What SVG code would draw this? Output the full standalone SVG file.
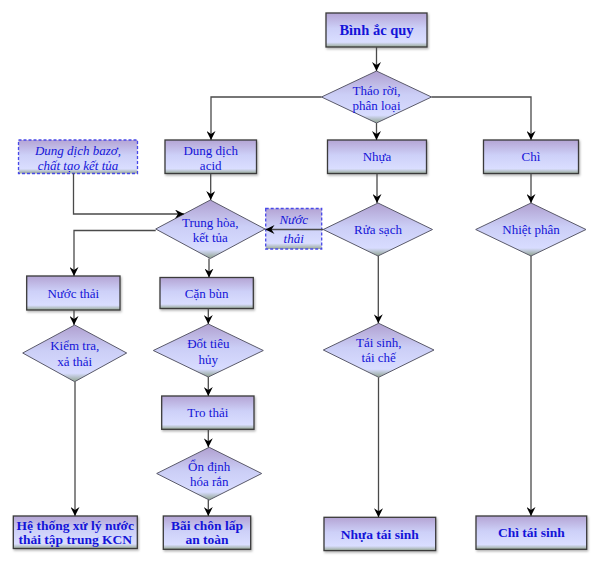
<svg xmlns="http://www.w3.org/2000/svg" width="600" height="561" viewBox="0 0 600 561">
<defs>
<linearGradient id="g" x1="0" y1="0" x2="0" y2="1">
<stop offset="0" stop-color="#b4a4d4"/>
<stop offset="0.45" stop-color="#cdd0f8"/>
<stop offset="0.86" stop-color="#dadeff"/>
<stop offset="1" stop-color="#97a896"/>
</linearGradient>
<linearGradient id="gd" x1="0" y1="0" x2="0" y2="1">
<stop offset="0" stop-color="#b0a0d0"/>
<stop offset="0.45" stop-color="#cbcef6"/>
<stop offset="0.85" stop-color="#d8dcff"/>
<stop offset="1" stop-color="#8fa38e"/>
</linearGradient>
<marker id="ah" markerUnits="userSpaceOnUse" markerWidth="10" markerHeight="9" refX="9" refY="4.5" orient="auto" viewBox="0 0 10 9">
<path d="M0,0 L9,4.5 L0,9 L3,4.5 z" fill="#000"/>
</marker>
<filter id="sh" x="-5%" y="-5%" width="115%" height="125%">
<feDropShadow dx="1" dy="1.5" stdDeviation="0.8" flood-color="#000" flood-opacity="0.3"/>
</filter>
</defs>
<style>
.box{fill:url(#g);stroke:#3a3a3a;stroke-width:1.3;filter:url(#sh)}
.dbox{fill:url(#g);stroke:#4848e8;stroke-width:1.3;stroke-dasharray:3 2}
.dia{fill:url(#gd);stroke:#5a5a6a;stroke-width:1}
.t{font-family:"Liberation Serif","Times New Roman",serif;font-size:13px;fill:#1414d8;text-anchor:middle}
.b{font-weight:bold;font-size:13.5px}
.i{font-style:italic}
.c{fill:none;stroke:#4a4a4a;stroke-width:1.3;marker-end:url(#ah)}
</style>

<g id="binh-ac-quy">
<rect class="box" x="326" y="13" width="101" height="34"/>
<text class="t b" x="376.5" y="35" style="font-size:14.5px">Bình ắc quy</text>
</g>
<g id="thao-roi">
<polygon class="dia" points="376.5,71 431.5,97 376.5,123 321.5,97"/>
<text class="t" x="376.5" y="95">Tháo rời,</text>
<text class="t" x="376.5" y="110">phân loại</text>
</g>
<g id="dung-dich-bazo">
<rect class="dbox" x="18.5" y="140" width="119" height="33.5"/>
<text class="t i" x="78" y="155">Dung dịch bazơ,</text>
<text class="t i" x="78" y="169.5">chất tạo kết tủa</text>
</g>
<g id="dung-dich-acid">
<rect class="box" x="165" y="140" width="91.5" height="33.5"/>
<text class="t" x="210.7" y="155">Dung dịch</text>
<text class="t" x="210.7" y="169.5">acid</text>
</g>
<g id="nhua">
<rect class="box" x="327.5" y="140" width="99" height="33.5"/>
<text class="t" x="377" y="161">Nhựa</text>
</g>
<g id="chi">
<rect class="box" x="483.5" y="140" width="95" height="33.5"/>
<text class="t" x="531" y="161">Chì</text>
</g>
<g id="trung-hoa">
<polygon class="dia" points="210.3,200 265,229 210.3,258.5 155.7,229"/>
<text class="t" x="210.3" y="227">Trung hòa,</text>
<text class="t" x="210.3" y="242">kết tủa</text>
</g>
<g id="nuoc-thai-vao">
<rect class="dbox" x="265.7" y="208.5" width="56" height="40.5"/>
<text class="t i" x="293.7" y="224">Nước</text>
<text class="t i" x="293.7" y="243">thải</text>
</g>
<g id="rua-sach">
<polygon class="dia" points="378,203 432.5,229.5 378,256 323.3,229.5"/>
<text class="t" x="378" y="234">Rửa sạch</text>
</g>
<g id="nhiet-phan">
<polygon class="dia" points="531,203 586,229.5 531,256 475.7,229.5"/>
<text class="t" x="531" y="234">Nhiệt phân</text>
</g>
<g id="nuoc-thai">
<rect class="box" x="26.7" y="276" width="93.3" height="34"/>
<text class="t" x="73.3" y="298">Nước thải</text>
</g>
<g id="can-bun">
<rect class="box" x="160" y="277.5" width="93.3" height="31"/>
<text class="t" x="206.7" y="298">Cặn bùn</text>
</g>
<g id="kiem-tra">
<polygon class="dia" points="74.7,325 126.7,353 74.7,381.7 22.7,353"/>
<text class="t" x="74.7" y="350">Kiểm tra,</text>
<text class="t" x="74.7" y="366">xả thải</text>
</g>
<g id="dot-tieu-huy">
<polygon class="dia" points="208.3,324 263.3,350.5 208.3,377 153.3,350.5"/>
<text class="t" x="208.3" y="348">Đốt tiêu</text>
<text class="t" x="208.3" y="364">hủy</text>
</g>
<g id="tai-sinh">
<polygon class="dia" points="378.7,323.3 434,350 378.7,377.3 323.3,350"/>
<text class="t" x="378.7" y="347">Tái sinh,</text>
<text class="t" x="378.7" y="362">tái chế</text>
</g>
<g id="tro-thai">
<rect class="box" x="161.7" y="396" width="92.3" height="33.3"/>
<text class="t" x="207.8" y="417">Tro thải</text>
</g>
<g id="on-dinh">
<polygon class="dia" points="209.2,447.3 261.7,473.5 209.2,500 156.7,473.5"/>
<text class="t" x="209.2" y="471">Ổn định</text>
<text class="t" x="209.2" y="486">hóa rắn</text>
</g>
<g id="he-thong">
<rect class="box" x="13.3" y="516" width="124" height="32.5"/>
<text class="t b" x="75.3" y="529.5">Hệ thống xử lý nước</text>
<text class="t b" x="75.3" y="544">thải tập trung KCN</text>
</g>
<g id="bai-chon-lap">
<rect class="box" x="163.3" y="516" width="87.4" height="33.3"/>
<text class="t b" x="207" y="529.5">Bãi chôn lấp</text>
<text class="t b" x="207" y="544">an toàn</text>
</g>
<g id="nhua-tai-sinh">
<rect class="box" x="324" y="517.3" width="111.7" height="33.3"/>
<text class="t b" x="379.8" y="538.5">Nhựa tái sinh</text>
</g>
<g id="chi-tai-sinh">
<rect class="box" x="476" y="516" width="110.7" height="33.3"/>
<text class="t b" x="531.3" y="537">Chì tái sinh</text>
</g>

<g id="connectors">
<path class="c" d="M376.5,47 V71"/>
<path class="c" d="M321.5,97 H211 V140"/>
<path class="c" d="M431.5,97 H531 V140"/>
<path class="c" d="M376.5,123 V140"/>
<path class="c" d="M210.7,173.5 V200"/>
<path class="c" d="M73.5,173.5 V214 H184"/>
<path class="c" d="M377,173.5 V203"/>
<path class="c" d="M531,173.5 V203"/>
<path class="c" d="M323.3,229.5 H265.5"/>
<path class="c" d="M155.7,230.5 H74 V276"/>
<path class="c" d="M209,258.5 V277.5"/>
<path class="c" d="M74,310 V325"/>
<path class="c" d="M208.3,308.5 V324"/>
<path class="c" d="M75,381.7 V516"/>
<path class="c" d="M208.3,377 V396"/>
<path class="c" d="M208.3,429.3 V447.3"/>
<path class="c" d="M208.3,500 V516"/>
<path class="c" d="M378.3,256 V323.3"/>
<path class="c" d="M378.5,377.3 V517.3"/>
<path class="c" d="M531,256 V516"/>
</g>
</svg>
